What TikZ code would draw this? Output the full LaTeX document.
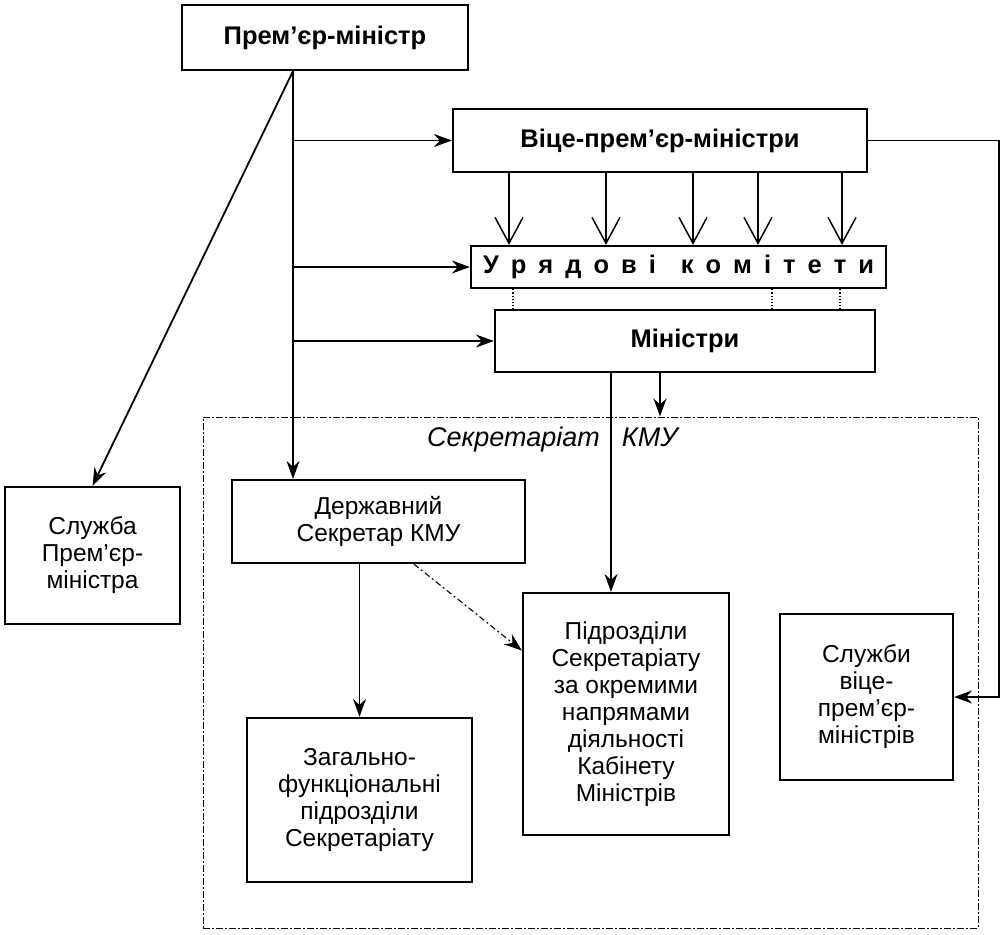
\documentclass[tikz,border=0pt]{standalone}
\usepackage{fontspec}
\setmainfont{Liberation Sans}
\usepackage{tikz}
\usetikzlibrary{positioning,arrows.meta,calc}

\newcommand{\ls}{\hspace{12pt}}

\begin{document}
\begin{tikzpicture}[x=1pt,y=-1pt,
  box/.style={draw, line width=2.2pt, align=center, inner sep=0pt, font=\fontsize{24.5}{27}\selectfont},
  hbox/.style={box, font=\fontsize{25.5}{28}\selectfont\bfseries},
  arr/.style={line width=1.8pt, -{Stealth[length=18pt,width=13pt,inset=6pt]}},
  vee/.style={line width=1.5pt, -{Straight Barb[length=26pt,width=28pt,line width=1.5pt]}},
  frame/.style={draw, line width=1pt, dash pattern=on 7pt off 2pt on 2pt off 2pt}]
\useasboundingbox (0,0) rectangle (1005,935);

\node[frame, minimum width=775pt, minimum height=511pt] (secr) at (590.5,672.5) {};
\node[font=\fontsize{27}{30}\selectfont\itshape, anchor=west, inner sep=0pt] (secrlab) at (427,440) {Секретаріат\hspace{22pt}КМУ};

\node[hbox, minimum width=286pt, minimum height=65pt] (pm) at (325,37.5) {Прем’єр-міністр};
\node[hbox, minimum width=414pt, minimum height=63pt] (vice) at (660,140.5) {Віце-прем’єр-міністри};
\node[hbox, minimum width=415pt, minimum height=42pt] (komitety) at (678.5,267)
  {У\ls р\ls я\ls д\ls о\ls в\ls і\hspace{25pt}к\ls о\ls м\ls і\ls т\ls е\ls т\ls и};
\node[hbox, minimum width=380pt, minimum height=62pt] (ministry) at (685,341) {Міністри};

\node[box, minimum width=175pt, minimum height=137pt] (sluzhbapm) at (92.5,555.5) {Служба\\Прем’єр-\\міністра};
\node[box, minimum width=293pt, minimum height=83pt] (derzh) at (378.5,521.5) {Державний\\Секретар КМУ};
\node[box, minimum width=225pt, minimum height=164pt] (zagal) at (359.5,800) {Загально-\\функціональні\\підрозділи\\Секретаріату};
\node[box, minimum width=206pt, minimum height=242pt] (pidrozd) at (626,714) {Підрозділи\\Секретаріату\\за окремими\\напрямами\\діяльності\\Кабінету\\Міністрів};
\node[box, minimum width=173pt, minimum height=166pt] (sluzhby) at (866.5,697) {Служби\\віце-\\прем’єр-\\міністрів};

\coordinate (trunk) at (293,0);
\coordinate (rt) at (999,0);
\coordinate (mx) at (611,0);

\draw[arr] (pm.south -| trunk) -- (derzh.north -| trunk);
\draw[arr] (pm.south -| trunk) -- (sluzhbapm.north);
\draw[arr] (trunk |- vice.west) -- (vice.west);
\draw[arr] (trunk |- komitety.west) -- (komitety.west);
\draw[arr] (trunk |- ministry.west) -- (ministry.west);

\foreach \x in {509,606,693,758,842}
  \draw[vee] (vice.south -| \x,0) -- (komitety.north -| \x,0);
\foreach \x in {513,772,840}
  \draw[line width=1.2pt, dotted] (komitety.south -| \x,0) -- (ministry.north -| \x,0);

\draw[arr] (vice.east) -| (rt |- sluzhby.east) -- (sluzhby.east);
\draw[arr] (ministry.south -| mx) -- (pidrozd.north -| mx);
\draw[arr] (ministry.south -| 660,0) -- (secr.north -| 660,0);
\draw[arr] (derzh.south -| zagal.north) -- (zagal.north);
\draw[arr, line width=1.1pt, dash pattern=on 6pt off 3pt on 2pt off 3pt]
  ($(derzh.south west)!0.62!(derzh.south east)$) -- ($(pidrozd.north west)!0.24!(pidrozd.south west)$);
\end{tikzpicture}
\end{document}
